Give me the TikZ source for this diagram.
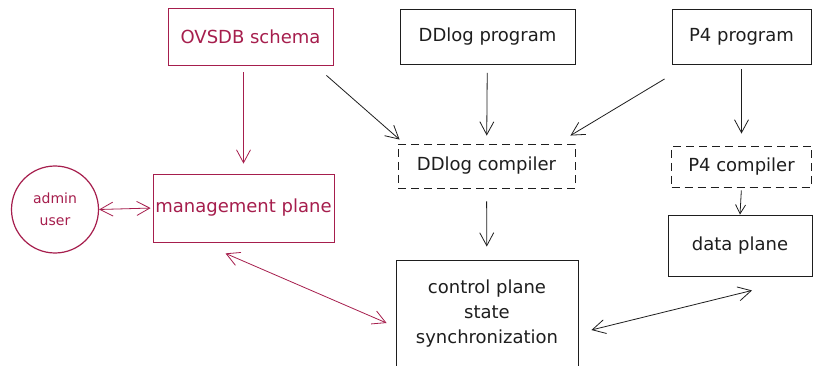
\documentclass[tikz,border=0pt]{standalone}
\usepackage{fontspec}
\setmainfont{DejaVu Sans}
\usepackage{tikz}
\usetikzlibrary{arrows.meta}
\definecolor{Ink}{HTML}{1E1E1E}
\definecolor{Berry}{HTML}{A61E4D}

\begin{document}
\begin{tikzpicture}[x=1pt,y=-1pt,
    box/.style={rectangle,draw=Ink,line width=0.9pt,text=Ink,align=center,inner sep=0pt,font=\fontsize{18}{25}\selectfont},
    mgmt/.style={box,draw=Berry,text=Berry,line width=0.8pt},
    compiler/.style={box,dash pattern=on 8pt off 5pt},
    arrow/.style={-{Straight Barb[length=13pt,width=14pt]},line width=0.8pt,draw=Ink},
    twoway/.style={arrow,{Straight Barb[length=13pt,width=14pt]}-{Straight Barb[length=13pt,width=14pt]}}
]
\fill[white] (0,0) rectangle (813,366);
\useasboundingbox (0,0) rectangle (813,366);

% inputs along the top
\node[mgmt,minimum width=165pt,minimum height=57pt] (schema) at (250.5,36.5) {OVSDB schema};
\node[box,minimum width=175pt,minimum height=55pt] (ddprog) at (487.5,37) {DDlog program};
\node[box,minimum width=139pt,minimum height=55pt] (p4prog) at (741.5,37) {P4 program};

% compilers
\node[compiler,minimum width=177pt,minimum height=44pt] (ddcomp) at (486.5,166) {DDlog compiler};
\node[compiler,minimum width=140pt,minimum height=41pt] (p4comp) at (741.5,166.5) {P4 compiler};

% planes
\node[mgmt,minimum width=181pt,minimum height=68pt] (mplane) at (243.5,208) {management plane};
\node[circle,draw=Berry,line width=1.2pt,text=Berry,minimum size=87pt,inner sep=0pt,align=center,font=\fontsize{14}{22}\selectfont] (admin) at (55,209.5) {admin\\user};
\node[box,minimum width=182pt,minimum height=108pt] (sync) at (487,314) {control plane\\state\\synchronization};
\node[box,minimum width=144pt,minimum height=61pt] (dplane) at (740,245.5) {data plane};

\draw[arrow,Berry,shorten <=7pt,shorten >=10pt] (mplane.north |- schema.south) -- (mplane.north);
\draw[arrow] ([xshift=-7pt,yshift=-10pt]schema.south east) -- ([xshift=2pt,yshift=4pt]ddcomp.north west);
\draw[arrow,shorten <=8pt,shorten >=8pt] (ddprog) -- (ddcomp);
\draw[arrow] ([xshift=-7pt,yshift=-14pt]p4prog.south west) -- ([xshift=-5pt,yshift=8pt]ddcomp.north east);
\draw[arrow,shorten <=4pt,shorten >=12pt] (p4prog) -- (p4comp);
\draw[arrow,-{Straight Barb[length=9pt,width=10pt]},shorten <=3pt] (p4comp.south) -- (dplane.north);
\draw[arrow,shorten <=13pt,shorten >=13pt] (ddcomp) -- (sync);

\draw[twoway,Berry,shorten >=2pt] (admin.east) -- (mplane.west);
\draw[twoway,Berry] ([xshift=-18pt,yshift=-11pt]mplane.south) -- ([xshift=-9pt,yshift=-9pt]sync.west);
\draw[twoway] ([xshift=13pt,yshift=-16pt]sync.east) -- ([xshift=12pt,yshift=-14pt]dplane.south);
\end{tikzpicture}
\end{document}
